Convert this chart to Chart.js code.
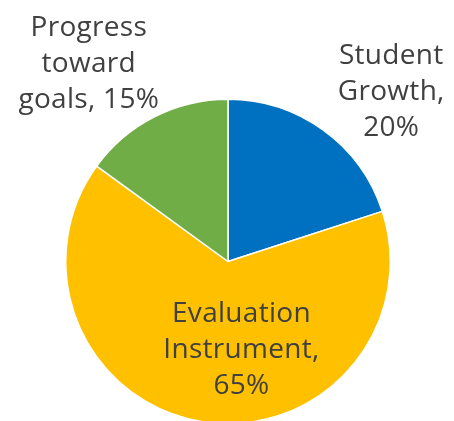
<!DOCTYPE html>
<html>
<head>
<meta charset="utf-8">
<script src="https://cdn.jsdelivr.net/npm/chart.js@4.4.1/dist/chart.umd.min.js"></script>
<style>
  html, body { margin: 0; padding: 0; background: #fff; overflow: hidden; }
  #wrap { position: relative; width: 454px; height: 425px; }
</style>
</head>
<body>
<div id="wrap"><canvas id="myChart"></canvas></div>
<script>
// dados do gráfico
const categorias = ["Student Growth", "Evaluation Instrument", "Progress toward goals"]
const valores = [20, 65, 15]
const rotulos = [["Student", "Growth,", "20%"], ["Evaluation", "Instrument,", "65%"], ["Progress", "toward", "goals, 15%"]]
const cores = ["#0070C0", "#FFC000", "#70AD47"]

// posição da linha do meio de cada rótulo, relativa ao centro em múltiplos do raio
const offsetsRotulo = [[1.006, -0.997], [0.083, 0.596], [-0.858, -1.17]]

const rotulosPlugin = {
  id: "rotulos",
  afterDatasetsDraw(chart) {
    const ctx = chart.ctx
    const meta = chart.getDatasetMeta(0)
    ctx.save()
    ctx.fillStyle = "#404040"
    ctx.font = "28px 'Open Sans', sans-serif"
    ctx.letterSpacing = "0.3px"
    ctx.textAlign = "center"
    ctx.textBaseline = "alphabetic"
    meta.data.forEach((arc, i) => {
      const r = arc.outerRadius
      const cx = arc.x + offsetsRotulo[i][0] * r
      const cy = arc.y + offsetsRotulo[i][1] * r
      const linhas = rotulos[i]
      const lh = 36
      linhas.forEach((t, j) => {
        ctx.fillText(t, cx, cy + (j - (linhas.length - 1) / 2) * lh)
      })
    })
    ctx.restore()
  }
}

const ctx = document.getElementById("myChart")

const data = {
  labels: categorias,
  datasets: [{
    data: valores,
    backgroundColor: cores,
    borderColor: "#ffffff",
    borderWidth: 1.5
  }]
}

const config = {
  type: "pie",
  data: data,
  options: {
    responsive: true,
    maintainAspectRatio: false,
    animation: false,
    layout: { padding: { left: 65, right: 63, top: 98, bottom: 0 } },
    plugins: {
      legend: { display: false },
      tooltip: { enabled: false }
    }
  },
  plugins: [rotulosPlugin]
}

const myChart = new Chart(ctx, config)
</script>
</body>
</html>
